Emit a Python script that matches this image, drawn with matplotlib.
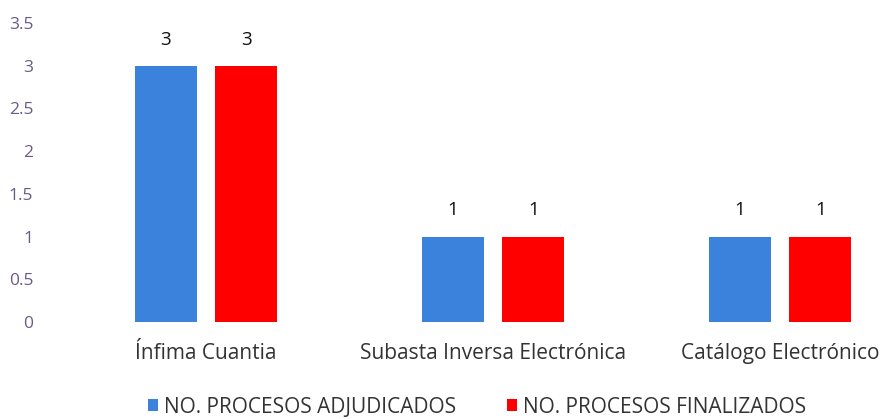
import matplotlib.pyplot as plt
import numpy as np

plt.rcParams['font.family'] = ['Open Sans', 'DejaVu Sans']

# datos
categorias = ['Ínfima Cuantia', 'Subasta Inversa Electrónica', 'Catálogo Electrónico']
adjudicados = [3, 1, 1]
finalizados = [3, 1, 1]
yticks = [0, 0.5, 1, 1.5, 2, 2.5, 3, 3.5]

fig = plt.figure(figsize=(8.81, 4.19), dpi=100)
ax = fig.add_axes([62.5 / 881, 97 / 419, (881 - 62.5) / 881, (322 - 23) / 419])

x = np.arange(len(categorias))
w = 0.216
off = 0.141
b1 = ax.bar(x - off, adjudicados, w, color='#3a82dc', label='NO. PROCESOS ADJUDICADOS')
b2 = ax.bar(x + off, finalizados, w, color='#ff0000', label='NO. PROCESOS FINALIZADOS')

for bars in (b1, b2):
    for b in bars:
        ax.text(b.get_x() + b.get_width() / 2, b.get_height() + 0.2, f'{b.get_height():g}',
                ha='center', va='bottom', fontsize=13.5, color='#111111')

ax.set_xlim(-0.5, 2.352)
ax.set_ylim(0, 3.5)
ax.set_yticks(yticks)
ax.set_yticklabels([f'{t:g}' for t in yticks], color='#6a5a88', fontsize=12.5)
ax.set_xticks(x)
ax.set_xticklabels(categorias, fontsize=15, color='#333333')
ax.tick_params(axis='both', length=0)
ax.tick_params(axis='y', pad=21)
ax.tick_params(axis='x', pad=15)
for s in ax.spines.values():
    s.set_visible(False)

fig.legend(loc='center', bbox_to_anchor=(477 / 881, 1 - 407 / 419), ncol=2, frameon=False,
           fontsize=15, handlelength=0.5, handleheight=0.5, columnspacing=2.4, handletextpad=0.3,
           labelcolor='#333333')

fig.savefig('out.png', dpi=100)
